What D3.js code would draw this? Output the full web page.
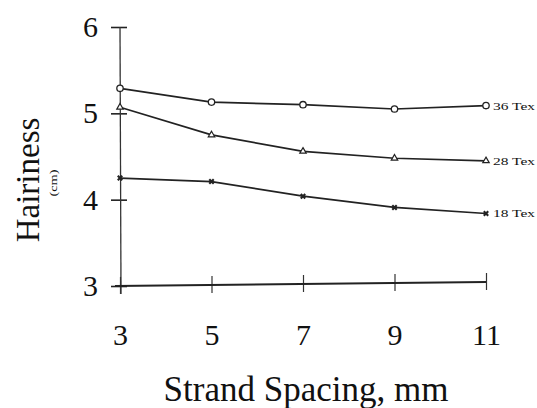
<!DOCTYPE html>
<html><head><meta charset="utf-8">
<script src="https://cdn.jsdelivr.net/npm/d3@7"></script>
<style>body{margin:0;background:#fff}svg{display:block}text{font-family:"Liberation Serif","Times New Roman",serif;fill:#111}</style>
</head><body><svg id="c" width="537" height="408"></svg>
<script>
const spacing = [3, 5, 7, 9, 11];
const tex36 = [5.29, 5.13, 5.10, 5.05, 5.09];
const tex28 = [5.07, 4.75, 4.56, 4.48, 4.45];
const tex18 = [4.25, 4.21, 4.04, 3.91, 3.84];
const seriesNames = ["36 Tex", "28 Tex", "18 Tex"];
const yTicks = [3, 4, 5, 6];

const svg = d3.select("#c");
const x = d3.scaleLinear().domain([3, 11]).range([120, 486]);
const y = d3.scaleLinear().domain([3, 6]).range([286, 27]);

// y axis
const yAxis = d3.axisLeft(y).tickValues(yTicks).tickSize(0).tickPadding(22).tickFormat(d3.format("d"));
const gy = svg.append("g").attr("transform", "translate(120,0)").call(yAxis);
gy.select(".domain").remove();
gy.selectAll("text").style("font-size", "30px").attr("fill", "#111");
svg.append("line").attr("x1", 120).attr("x2", 121).attr("y1", y(6)).attr("y2", 294).attr("stroke", "#333").attr("stroke-width", 1.3);
gy.selectAll(".tick").append("line").attr("x1", -9).attr("x2", 7).attr("stroke", "#222").attr("stroke-width", 1.6);

// x axis
const xAxis = d3.axisBottom(x).tickValues(spacing).tickSize(0).tickPadding(38).tickFormat(d3.format("d"));
const gx = svg.append("g").attr("transform", "translate(0," + y(3) + ")").call(xAxis);
gx.select(".domain").remove();
gx.selectAll("text").style("font-size", "30px").attr("fill", "#111");
svg.append("line").attr("x1", 115).attr("x2", x(11)).attr("y1", y(3)).attr("y2", y(3) - 4).attr("stroke", "#222").attr("stroke-width", 2);
gx.selectAll(".tick").each(function(d){
  const off = -4 * (x(d) - 115) / (x(11) - 115);
  d3.select(this).append("line").attr("y1", off - 9).attr("y2", off + 8).attr("stroke", "#333").attr("stroke-width", 1.2);
});

// lines
const data = [tex36, tex28, tex18];
const line = d3.line().x((d, i) => x(spacing[i])).y(d => y(d));
const labelY = [109, 164, 218];
data.forEach((vals, k) => {
  svg.append("path").attr("d", line(vals)).attr("fill", "none").attr("stroke", "#222").attr("stroke-width", 1.7);
  const g = svg.append("g");
  vals.forEach((v, i) => {
    const cx = x(spacing[i]), cy = y(v);
    if (k === 0) {
      g.append("circle").attr("cx", cx).attr("cy", cy).attr("r", 3.2).attr("fill", "#fff").attr("stroke", "#222").attr("stroke-width", 1.3);
    } else if (k === 1) {
      g.append("path").attr("d", d3.symbol(d3.symbolTriangle, 18)()).attr("transform", `translate(${cx},${cy})`).attr("fill", "#fff").attr("stroke", "#222").attr("stroke-width", 1.2);
    } else {
      g.append("path").attr("d", d3.symbol(d3.symbolCross, 22)()).attr("transform", `translate(${cx},${cy}) rotate(45)`).attr("fill", "#222");
    }
  });
  svg.append("text").attr("x", 493).attr("y", y(vals[4]) + 4).style("font-size", "11px").attr("fill", "#444")
    .attr("textLength", 42).attr("lengthAdjust", "spacingAndGlyphs").text(seriesNames[k]);
});

// axis titles
svg.append("text").attr("x", 306).attr("y", 401).attr("text-anchor", "middle").style("font-size", "35px").text("Strand Spacing, mm");
svg.append("text").attr("transform", "translate(39,180) rotate(-90)").attr("text-anchor", "middle").style("font-size", "33px").text("Hairiness");
svg.append("text").attr("transform", "translate(57,183) rotate(-90)").attr("text-anchor", "middle").style("font-size", "10px").attr("fill", "#555")
  .attr("textLength", 27).attr("lengthAdjust", "spacingAndGlyphs").text("(cm)");
</script></body></html>
